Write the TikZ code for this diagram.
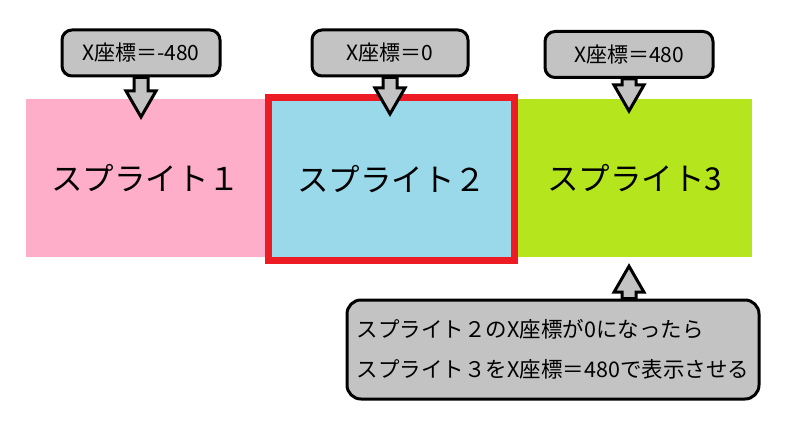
\documentclass[tikz,border=0pt]{standalone}
\usepackage{fontspec}
\setmainfont{Noto Sans CJK JP}
\usetikzlibrary{calc}
\definecolor{spink}{RGB}{255,174,201}
\definecolor{sblue}{RGB}{153,217,234}
\definecolor{sgreen}{RGB}{181,230,29}
\definecolor{sred}{RGB}{237,28,36}
\definecolor{lgray}{RGB}{195,195,195}
\newcommand{\blockarrow}[2]{%
  \coordinate (hb) at ($(#2)!26pt!(#1)$);
  \draw[barrow] ($(#1)!7pt!90:(#2)$) -- ($(hb)!7pt!90:(#2)$) -- ($(hb)!15pt!90:(#2)$) -- (#2)
    -- ($(hb)!15pt!-90:(#2)$) -- ($(hb)!7pt!-90:(#2)$) -- ($(#1)!7pt!-90:(#2)$) -- cycle;}
\begin{document}
\begin{tikzpicture}[x=1pt,y=-1pt,
  sprite/.style={minimum width=#1,minimum height=158pt,inner sep=0pt,font=\fontsize{31.5}{36}\selectfont},
  xlab/.style={draw,line width=3pt,fill=lgray,rounded corners=10pt,minimum height=46pt,font=\fontsize{21}{24}\selectfont},
  notebox/.style={draw,line width=3pt,fill=lgray,rounded corners=14pt,minimum width=412pt,minimum height=99pt,align=left,font=\fontsize{21.5}{40}\selectfont},
  barrow/.style={draw,line width=3pt,fill=lgray,line join=miter}]
  \useasboundingbox (0,0) rectangle (789,433);
  \node[sprite=239pt,fill=spink] (s1) at (145.5,178) {スプライト１};
  \node[sprite=235pt,fill=sgreen] (s3) at (634.5,178) {スプライト3};
  \node[sprite=246pt,minimum height=163pt,draw=sred,line width=7pt,fill=sblue] (s2) at (391.5,179) {スプライト２};
  \node[xlab,minimum width=158pt] (l1) at (141,53) {X座標＝-480};
  \node[xlab,minimum width=156pt] (l2) at (390,53) {X座標＝0};
  \node[xlab,minimum width=168pt] (l3) at (629,54.5) {X座標＝480};
  \node[notebox] (n) at (553,349.5) {スプライト２のX座標が0になったら\\スプライト３をX座標＝480で表示させる};
  \coordinate (t1) at (l1.south |- 0,117);
  \coordinate (t2) at (l2.south |- 0,114);
  \coordinate (t3) at (l3.south |- 0,111);
  \coordinate (n0) at (n.north -| l3.south);
  \coordinate (t4) at ($(s3.south -| l3.south)+(0,9)$);
  \blockarrow{l1.south}{t1}
  \blockarrow{l2.south}{t2}
  \blockarrow{l3.south}{t3}
  \blockarrow{n0}{t4}
\end{tikzpicture}
\end{document}
